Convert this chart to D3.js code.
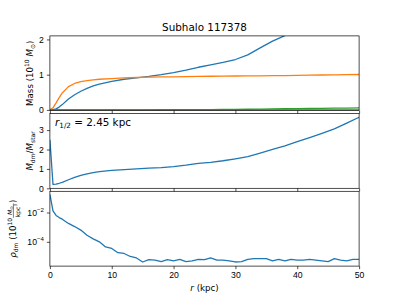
<!DOCTYPE html>
<html>
<head>
<meta charset="utf-8">
<script src="https://cdn.jsdelivr.net/npm/d3@7"></script>
<style>
  body { margin: 0; background: #fff; }
  svg { display: block; font-family: "DejaVu Sans", sans-serif; }
</style>
</head>
<body>
<svg id="chart" width="399" height="299"></svg>
<script>
// values
var title = "Subhalo 117378";
var halfRadius = "2.45";

var rMass = [0, 0.5, 1, 1.5, 2, 3, 4, 5, 6, 7, 8, 10, 12, 14, 16, 18, 20, 22, 24, 26, 28, 30, 32, 34, 36, 38, 40, 42, 44, 46, 48, 50];
var massDM = [0, 0.005, 0.03, 0.08, 0.15, 0.31, 0.43, 0.53, 0.61, 0.68, 0.73, 0.81, 0.87, 0.91, 0.95, 1.0, 1.06, 1.13, 1.21, 1.28, 1.35, 1.43, 1.56, 1.76, 1.95, 2.11, 2.35, 2.57, 2.80, 3.06, 3.38, 3.70];
var massStar = [0, 0.06, 0.2, 0.35, 0.48, 0.66, 0.75, 0.80, 0.83, 0.85, 0.87, 0.89, 0.91, 0.92, 0.93, 0.935, 0.94, 0.945, 0.95, 0.955, 0.96, 0.962, 0.965, 0.968, 0.972, 0.975, 0.98, 0.985, 0.99, 0.995, 1.0, 1.005];
var massGas = [0, 0, 0, 0, 0, 0, 0, 0, 0, 0, 0, 0.001, 0.001, 0.002, 0.003, 0.004, 0.005, 0.006, 0.008, 0.010, 0.012, 0.015, 0.018, 0.022, 0.027, 0.032, 0.036, 0.040, 0.044, 0.048, 0.052, 0.056];
var massBH = [0, 0, 0, 0, 0, 0, 0, 0, 0, 0, 0, 0, 0, 0, 0, 0, 0, 0, 0, 0, 0, 0, 0, 0, 0, 0, 0, 0, 0, 0, 0, 0];
var ratio = [2.5, 0.2, 0.22, 0.26, 0.31, 0.44, 0.56, 0.66, 0.74, 0.81, 0.86, 0.92, 0.96, 1.0, 1.04, 1.07, 1.12, 1.19, 1.28, 1.34, 1.42, 1.52, 1.63, 1.81, 2.0, 2.19, 2.40, 2.61, 2.83, 3.06, 3.36, 3.66];

var rDens = [0, 0.5, 1, 1.5, 2, 3, 4, 5, 6, 7, 8, 9, 10, 11, 12, 13, 14, 15, 16, 17, 18, 19, 20, 21, 22, 23, 24, 25, 26, 27, 28, 29, 30, 31, 32, 33, 34, 35, 36, 37, 38, 39, 40, 41, 42, 43, 44, 45, 46, 47, 48, 49, 50];
var rhoDM = [1.7e-1, 1.3e-2, 6.3e-3, 4.5e-3, 3.5e-3, 1.8e-3, 1.1e-3, 6.3e-4, 2.8e-4, 1.6e-4, 1.0e-4, 4.5e-5, 3.5e-5, 1.8e-5, 1.6e-5, 1.0e-5, 7.9e-6, 4.2e-6, 6.0e-6, 5.6e-6, 4.5e-6, 6.0e-6, 5.0e-6, 6.3e-6, 4.5e-6, 5.0e-6, 6.3e-6, 6.0e-6, 7.9e-6, 5.6e-6, 5.6e-6, 5.0e-6, 4.2e-6, 4.5e-6, 6.3e-6, 7.1e-6, 7.1e-6, 7.1e-6, 5.0e-6, 6.3e-6, 5.0e-6, 6.3e-6, 5.6e-6, 5.6e-6, 6.3e-6, 5.6e-6, 5.0e-6, 4.5e-6, 7.1e-6, 5.6e-6, 5.0e-6, 6.3e-6, 6.3e-6];

var xTicks = [0, 10, 20, 30, 40, 50];
var massTicks = [0, 1, 2];
var ratioTicks = [0, 1, 2, 3];
var rhoTicks = [1e-2, 1e-4];
var rhoTickExp = ["\u22122", "\u22124"];

// matplotlib-ish sizes at 62.3 dpi
var pt = 62.3 / 72;
var tickFont = 10 * pt, titleFont = 12 * pt, subFont = 7 * pt;
var C0 = "#1f77b4", C1 = "#ff7f0e", C2 = "#2ca02c", C5 = "#8c564b";

var svg = d3.select("#chart");
var left = 49.9, right = 359.1;
var panels = [
  {top: 35.9, bottom: 110.6},
  {top: 113.6, bottom: 188.3},
  {top: 191.3, bottom: 266.1}
];

var x = d3.scaleLinear().domain([0, 50]).range([left, right]);
var yMass = d3.scaleLinear().domain([-0.02, 2.1]).range([panels[0].bottom, panels[0].top]);
var yRatio = d3.scaleLinear().domain([0, 3.85]).range([panels[1].bottom, panels[1].top]);
var yRho = d3.scaleLog().domain([2.2e-6, 0.28]).range([panels[2].bottom, panels[2].top]);

// clip paths, one per panel
var defs = svg.append("defs");
panels.forEach(function(p, i) {
  defs.append("clipPath").attr("id", "clip" + i)
    .append("rect")
    .attr("x", left).attr("y", p.top)
    .attr("width", right - left).attr("height", p.bottom - p.top);
});

function styleAxis(g) {
  g.select(".domain").remove();
  g.selectAll(".tick line").attr("stroke", "#000").attr("stroke-width", 0.8 * pt);
  g.selectAll(".tick text").attr("fill", "#000").style("font-size", tickFont + "px");
}

function drawAxes(i, y, yticks, yfmt, showX) {
  var p = panels[i];
  svg.append("g")
    .attr("transform", "translate(0," + p.bottom + ")")
    .call(d3.axisBottom(x).tickValues(xTicks).tickSize(3.5 * pt).tickPadding(3.5 * pt)
      .tickFormat(showX ? d3.format("d") : function() { return ""; }))
    .call(styleAxis);
  var gy = svg.append("g")
    .attr("transform", "translate(" + left + ",0)")
    .call(d3.axisLeft(y).tickValues(yticks).tickSize(3.5 * pt).tickPadding(3.5 * pt).tickFormat(yfmt))
    .call(styleAxis);
  svg.append("rect")
    .attr("x", left).attr("y", p.top)
    .attr("width", right - left).attr("height", p.bottom - p.top)
    .attr("fill", "none").attr("stroke", "#000").attr("stroke-width", 0.8 * pt);
  return gy;
}

function addLine(i, xs, ys, y, color) {
  var line = d3.line()
    .x(function(d, j) { return x(xs[j]); })
    .y(function(d) { return y(d); });
  svg.append("path")
    .datum(ys)
    .attr("clip-path", "url(#clip" + i + ")")
    .attr("d", line)
    .attr("fill", "none")
    .attr("stroke", color)
    .attr("stroke-width", 1.5 * pt)
    .attr("stroke-linejoin", "round");
}

// panel 1: enclosed masses
addLine(0, rMass, massDM, yMass, C0);
addLine(0, rMass, massStar, yMass, C1);
addLine(0, rMass, massGas, yMass, C2);
addLine(0, rMass, massBH, yMass, C5);
drawAxes(0, yMass, massTicks, d3.format("d"), false);

// panel 2: dm / star ratio
addLine(1, rMass, ratio, yRatio, C0);
drawAxes(1, yRatio, ratioTicks, d3.format("d"), false);

// panel 3: dm density (log)
addLine(2, rDens, rhoDM, yRho, C0);
var gRho = drawAxes(2, yRho, rhoTicks, function() { return ""; }, true);
gRho.selectAll(".tick text").each(function(d, j) {
  var t = d3.select(this);
  t.append("tspan").text("10");
  t.append("tspan").attr("dy", -3.8).style("font-size", subFont + "px").text(rhoTickExp[j]);
});

// title
svg.append("text")
  .attr("x", (left + right) / 2).attr("y", 30.7)
  .attr("text-anchor", "middle")
  .style("font-size", titleFont + "px")
  .text(title);

// half-mass radius note
var note = svg.append("text")
  .attr("x", 55).attr("y", 125.5)
  .style("font-size", titleFont + "px");
note.append("tspan").style("font-style", "italic").text("r");
note.append("tspan").attr("dy", 2.2).style("font-size", (titleFont * 0.7) + "px").text("1/2");
note.append("tspan").attr("dy", -2.2).text(" = " + halfRadius + " kpc");

// y labels
function rotLabel(cx, cy) {
  return svg.append("text")
    .attr("transform", "translate(" + cx + "," + cy + ") rotate(-90)")
    .attr("text-anchor", "middle")
    .style("font-size", tickFont + "px");
}

var lab1 = rotLabel(33, (panels[0].top + panels[0].bottom) / 2);
lab1.append("tspan").text("Mass (10");
lab1.append("tspan").attr("dy", -3.6).style("font-size", subFont + "px").text("10");
lab1.append("tspan").attr("dy", 3.6).text(" ");
lab1.append("tspan").style("font-style", "italic").text("M");
lab1.append("tspan").attr("dy", 1.6).style("font-size", subFont + "px").text("\u2299");
lab1.append("tspan").attr("dy", -1.6).text(")");

var lab2 = rotLabel(33, (panels[1].top + panels[1].bottom) / 2);
lab2.append("tspan").style("font-style", "italic").text("M");
lab2.append("tspan").attr("dy", 1.8).style("font-size", subFont + "px").text("dm");
lab2.append("tspan").attr("dy", -1.8).text("/");
lab2.append("tspan").style("font-style", "italic").text("M");
lab2.append("tspan").attr("dy", 1.8).style("font-size", subFont + "px").text("star");

// density label with a stacked fraction
(function() {
  var cy = (panels[2].top + panels[2].bottom) / 2;
  var g = svg.append("g").style("font-size", tickFont + "px");
  var t1 = g.append("text").attr("x", 0).attr("y", 0);
  t1.append("tspan").style("font-style", "italic").text("\u03c1");
  t1.append("tspan").attr("dy", 1.8).style("font-size", subFont + "px").text("dm");
  t1.append("tspan").attr("dy", -1.8).text(" (10");
  t1.append("tspan").attr("dy", -3.6).style("font-size", subFont + "px").text("10");
  t1.append("tspan").attr("dy", 3.6).text(" ");
  var w1 = t1.node().getComputedTextLength();
  var fs = tickFont * 0.7;
  var num = g.append("text").attr("y", -4.3).style("font-size", fs + "px");
  num.append("tspan").style("font-style", "italic").text("M");
  num.append("tspan").attr("dy", 1.2).style("font-size", (fs * 0.7) + "px").text("\u2299");
  var den = g.append("text").attr("y", 3.6).style("font-size", fs + "px");
  den.append("tspan").text("kpc");
  den.append("tspan").attr("dy", -2.2).style("font-size", (fs * 0.7) + "px").text("3");
  var wn = num.node().getComputedTextLength();
  var wd = den.node().getComputedTextLength();
  var wf = Math.max(wn, wd) + 1;
  num.attr("x", w1 + (wf - wn) / 2);
  den.attr("x", w1 + (wf - wd) / 2);
  g.append("line")
    .attr("x1", w1).attr("x2", w1 + wf)
    .attr("y1", -2.6).attr("y2", -2.6)
    .attr("stroke", "#000").attr("stroke-width", 0.5);
  var close = g.append("text").attr("x", w1 + wf + 0.5).attr("y", 0).text(")");
  var total = w1 + wf + 0.5 + close.node().getComputedTextLength();
  g.attr("transform", "translate(16," + (cy + total / 2) + ") rotate(-90)");
})();

// x label
var xl = svg.append("text")
  .attr("x", (left + right) / 2).attr("y", 291)
  .attr("text-anchor", "middle")
  .style("font-size", tickFont + "px");
xl.append("tspan").style("font-style", "italic").text("r");
xl.append("tspan").text(" (kpc)");
</script>
</body>
</html>
